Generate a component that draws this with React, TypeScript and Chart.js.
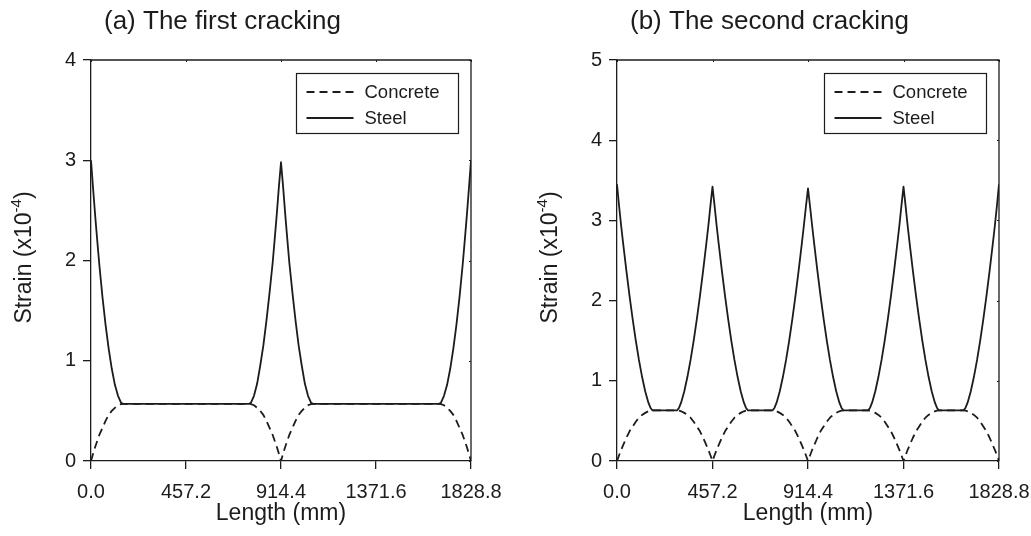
import React, { useEffect, useRef } from "react";
import { Chart, registerables } from "chart.js";

Chart.register(...registerables);

const FONT = '"Liberation Sans", Arial, Helvetica, sans-serif';
const INK = "#1c1c1c";

// ---------- shared axis data ----------
const xTickValues = [0, 457.2, 914.4, 1371.6, 1828.8];
const xMax = 1828.8;
const seriesNames = ["Concrete", "Steel"];

// ---------- (a) The first cracking ----------
const lengthA = [
  0, 10, 20, 30, 40, 55, 70, 85, 100, 115, 130, 145, 154,
  760.4, 769.4, 784.4, 799.4, 814.4, 829.4, 844.4, 859.4, 874.4, 884.4, 894.4, 904.4, 914.4,
  924.4, 934.4, 944.4, 954.4, 969.4, 984.4, 999.4, 1014.4, 1029.4, 1044.4, 1059.4, 1068.4,
  1674.8, 1683.8, 1698.8, 1713.8, 1728.8, 1743.8, 1758.8, 1773.8, 1788.8, 1798.8, 1808.8, 1818.8, 1828.8,
];
const steelA = [
  3.0, 2.72, 2.45, 2.2, 1.96, 1.64, 1.36, 1.12, 0.92, 0.76, 0.65, 0.58, 0.57,
  0.57, 0.58, 0.65, 0.77, 0.95, 1.15, 1.4, 1.68, 1.98, 2.22, 2.47, 2.74, 2.98,
  2.74, 2.47, 2.22, 1.98, 1.68, 1.4, 1.15, 0.95, 0.77, 0.65, 0.58, 0.57,
  0.57, 0.58, 0.65, 0.76, 0.92, 1.12, 1.36, 1.64, 1.96, 2.2, 2.45, 2.72, 3.0,
];
const concreteA = [
  0, 0.072, 0.14, 0.2, 0.26, 0.33, 0.4, 0.46, 0.5, 0.53, 0.556, 0.568, 0.57,
  0.57, 0.568, 0.556, 0.53, 0.5, 0.46, 0.4, 0.33, 0.26, 0.2, 0.14, 0.072, 0,
  0.072, 0.14, 0.2, 0.26, 0.33, 0.4, 0.46, 0.5, 0.53, 0.556, 0.568, 0.57,
  0.57, 0.568, 0.556, 0.53, 0.5, 0.46, 0.4, 0.33, 0.26, 0.2, 0.14, 0.072, 0,
];

// ---------- (b) The second cracking ----------
const lengthB = [
  0, 10, 20, 30, 45, 60, 75, 90, 105, 120, 135, 150, 160, 170,
  287.2, 297.2, 307.2, 322.2, 337.2, 352.2, 367.2, 382.2, 397.2, 412.2, 427.2, 437.2, 447.2, 457.2,
  467.2, 477.2, 487.2, 502.2, 517.2, 532.2, 547.2, 562.2, 577.2, 592.2, 607.2, 617.2, 627.2,
  744.4, 754.4, 764.4, 779.4, 794.4, 809.4, 824.4, 839.4, 854.4, 869.4, 884.4, 894.4, 904.4, 914.4,
  924.4, 934.4, 944.4, 959.4, 974.4, 989.4, 1004.4, 1019.4, 1034.4, 1049.4, 1064.4, 1074.4, 1084.4,
  1201.6, 1211.6, 1221.6, 1236.6, 1251.6, 1266.6, 1281.6, 1296.6, 1311.6, 1326.6, 1341.6, 1351.6, 1361.6, 1371.6,
  1381.6, 1391.6, 1401.6, 1416.6, 1431.6, 1446.6, 1461.6, 1476.6, 1491.6, 1506.6, 1521.6, 1531.6, 1541.6,
  1658.8, 1668.8, 1678.8, 1693.8, 1708.8, 1723.8, 1738.8, 1753.8, 1768.8, 1783.8, 1798.8, 1808.8, 1818.8, 1828.8,
];
const steelB = [
  3.45, 3.18, 2.93, 2.7, 2.37, 2.06, 1.77, 1.5, 1.26, 1.05, 0.87, 0.73, 0.665, 0.63,
  0.63, 0.665, 0.73, 0.87, 1.05, 1.26, 1.5, 1.77, 2.06, 2.37, 2.7, 2.93, 3.18, 3.42,
  3.18, 2.93, 2.7, 2.37, 2.06, 1.77, 1.5, 1.26, 1.05, 0.87, 0.73, 0.665, 0.63,
  0.63, 0.665, 0.73, 0.87, 1.05, 1.26, 1.5, 1.77, 2.06, 2.37, 2.7, 2.93, 3.17, 3.4,
  3.17, 2.93, 2.7, 2.37, 2.06, 1.77, 1.5, 1.26, 1.05, 0.87, 0.73, 0.665, 0.63,
  0.63, 0.665, 0.73, 0.87, 1.05, 1.26, 1.5, 1.77, 2.06, 2.37, 2.7, 2.93, 3.18, 3.42,
  3.18, 2.93, 2.7, 2.37, 2.06, 1.77, 1.5, 1.26, 1.05, 0.87, 0.73, 0.665, 0.63,
  0.63, 0.665, 0.73, 0.87, 1.05, 1.26, 1.5, 1.77, 2.06, 2.37, 2.7, 2.93, 3.18, 3.45,
];
const concreteB = [
  0, 0.072, 0.14, 0.2, 0.29, 0.37, 0.43, 0.49, 0.54, 0.575, 0.6, 0.62, 0.627, 0.63,
  0.63, 0.627, 0.62, 0.6, 0.575, 0.54, 0.49, 0.43, 0.37, 0.29, 0.2, 0.14, 0.072, 0,
  0.072, 0.14, 0.2, 0.29, 0.37, 0.43, 0.49, 0.54, 0.575, 0.6, 0.62, 0.627, 0.63,
  0.63, 0.627, 0.62, 0.6, 0.575, 0.54, 0.49, 0.43, 0.37, 0.29, 0.2, 0.14, 0.072, 0,
  0.072, 0.14, 0.2, 0.29, 0.37, 0.43, 0.49, 0.54, 0.575, 0.6, 0.62, 0.627, 0.63,
  0.63, 0.627, 0.62, 0.6, 0.575, 0.54, 0.49, 0.43, 0.37, 0.29, 0.2, 0.14, 0.072, 0,
  0.072, 0.14, 0.2, 0.29, 0.37, 0.43, 0.49, 0.54, 0.575, 0.6, 0.62, 0.627, 0.63,
  0.63, 0.627, 0.62, 0.6, 0.575, 0.54, 0.49, 0.43, 0.37, 0.29, 0.2, 0.14, 0.072, 0,
];

const xTitle = "Length (mm)";
const yTitleMain = "Strain (x10";
const yTitleSup = "-4";
const yTitleEnd = ")";

type PanelProps = {
  left: number;
  width: number;
  axisWidth: number;
  padRight: number;
  title: string;
  xs: number[];
  steel: number[];
  concrete: number[];
  yMax: number;
};

function Panel(props: PanelProps) {
  const ref = useRef<HTMLCanvasElement | null>(null);

  useEffect(() => {
    const canvas = ref.current;
    if (!canvas) return;
    const { title, xs, steel, concrete, yMax, axisWidth, padRight } = props;

    const decor = {
      id: "decor",
      afterDraw(chart: any) {
        const ctx = chart.ctx as CanvasRenderingContext2D;
        const a = chart.chartArea;
        ctx.save();
        // frame top + right
        ctx.strokeStyle = INK;
        ctx.lineWidth = 1.3;
        ctx.beginPath();
        ctx.moveTo(a.left, a.top);
        ctx.lineTo(a.right, a.top);
        ctx.lineTo(a.right, a.bottom);
        ctx.stroke();
        // tiny mirror ticks
        ctx.lineWidth = 1;
        const xs2 = chart.scales.x;
        const ys2 = chart.scales.y;
        ctx.beginPath();
        xTickValues.forEach((v) => {
          const px = Math.round(xs2.getPixelForValue(v)) + 0.5;
          ctx.moveTo(px, a.top);
          ctx.lineTo(px, a.top + 2);
        });
        for (let v = 0; v <= yMax; v++) {
          const py = Math.round(ys2.getPixelForValue(v)) + 0.5;
          ctx.moveTo(a.right, py);
          ctx.lineTo(a.right - 2, py);
        }
        ctx.stroke();

        // title
        ctx.fillStyle = INK;
        ctx.font = `26px ${FONT}`;
        ctx.textAlign = "left";
        ctx.textBaseline = "alphabetic";
        ctx.fillText(title, a.left + 13, 29);

        // x title
        ctx.font = `23px ${FONT}`;
        ctx.textAlign = "center";
        ctx.textBaseline = "middle";
        ctx.fillText(xTitle, (a.left + a.right) / 2, 514);

        // y title (rotated, superscript)
        ctx.save();
        ctx.translate(a.left - 66, (a.top + a.bottom) / 2 - 3);
        ctx.rotate(-Math.PI / 2);
        ctx.textAlign = "left";
        ctx.textBaseline = "middle";
        ctx.font = `23px ${FONT}`;
        const w1 = ctx.measureText(yTitleMain).width;
        const w3 = ctx.measureText(yTitleEnd).width;
        ctx.font = `15px ${FONT}`;
        const w2 = ctx.measureText(yTitleSup).width;
        const total = w1 + w2 + w3;
        let x0 = -total / 2;
        ctx.font = `23px ${FONT}`;
        ctx.fillText(yTitleMain, x0, 0);
        x0 += w1;
        ctx.font = `15px ${FONT}`;
        ctx.fillText(yTitleSup, x0, -8);
        x0 += w2;
        ctx.font = `23px ${FONT}`;
        ctx.fillText(yTitleEnd, x0, 0);
        ctx.restore();

        // legend box
        const bw = 162;
        const bh = 60;
        const bx = Math.round(a.right - 13 - bw) + 0.5;
        const by = 73.5;
        ctx.fillStyle = "#ffffff";
        ctx.fillRect(bx, by, bw, bh);
        ctx.strokeStyle = INK;
        ctx.lineWidth = 1.2;
        ctx.strokeRect(bx, by, bw, bh);
        const rows = [18.5, 44.5];
        ctx.lineWidth = 1.8;
        rows.forEach((ry, i) => {
          ctx.setLineDash(i === 0 ? [8, 5] : []);
          ctx.beginPath();
          ctx.moveTo(bx + 10, by + ry);
          ctx.lineTo(bx + 57, by + ry);
          ctx.stroke();
        });
        ctx.setLineDash([]);
        ctx.fillStyle = INK;
        ctx.font = `18.5px ${FONT}`;
        ctx.textAlign = "left";
        ctx.textBaseline = "middle";
        rows.forEach((ry, i) => {
          ctx.fillText(seriesNames[i], bx + 68, by + ry + 1);
        });
        ctx.restore();
      },
    };

    const tickFont = { family: FONT, size: 20 };

    const chart = new Chart(canvas, {
      type: "line",
      data: {
        datasets: [
          {
            label: seriesNames[0],
            data: xs.map((x, i) => ({ x, y: concrete[i] })),
            borderColor: INK,
            borderWidth: 1.8,
            borderDash: [8, 5],
            borderJoinStyle: "round",
            pointRadius: 0,
            fill: false,
            tension: 0,
          },
          {
            label: seriesNames[1],
            data: xs.map((x, i) => ({ x, y: steel[i] })),
            borderColor: INK,
            borderWidth: 1.8,
            borderJoinStyle: "round",
            pointRadius: 0,
            fill: false,
            tension: 0,
          },
        ],
      },
      options: {
        responsive: false,
        animation: false,
        devicePixelRatio: 1,
        layout: { padding: { top: 60, right: padRight, left: 0, bottom: 0 } },
        plugins: {
          legend: { display: false },
          tooltip: { enabled: false },
          title: { display: false },
        },
        scales: {
          x: {
            type: "linear",
            min: 0,
            max: xMax,
            afterBuildTicks: (s: any) => {
              s.ticks = xTickValues.map((v) => ({ value: v }));
            },
            afterFit: (s: any) => {
              s.height = 75;
              s.paddingLeft = 0;
              s.paddingRight = 0;
            },
            ticks: {
              callback: (v: any) => Number(v).toFixed(1),
              font: tickFont,
              color: INK,
              padding: 11,
              maxRotation: 0,
              autoSkip: false,
            },
            grid: {
              drawOnChartArea: false,
              drawTicks: true,
              tickLength: 8,
              color: INK,
              lineWidth: 1.3,
            },
            border: { display: true, color: INK, width: 1.3 },
          },
          y: {
            type: "linear",
            min: 0,
            max: yMax,
            afterFit: (s: any) => {
              s.width = axisWidth;
              s.paddingTop = 0;
              s.paddingBottom = 0;
            },
            ticks: {
              stepSize: 1,
              font: tickFont,
              color: INK,
              padding: 7,
            },
            grid: {
              drawOnChartArea: false,
              drawTicks: true,
              tickLength: 8,
              color: INK,
              lineWidth: 1.3,
            },
            border: { display: true, color: INK, width: 1.3 },
          },
        },
      } as any,
      plugins: [decor],
    });

    return () => chart.destroy();
  }, []);

  return (
    <canvas
      ref={ref}
      width={props.width}
      height={536}
      style={{ position: "absolute", left: props.left, top: 0, width: props.width, height: 536 }}
    />
  );
}

export default function App() {
  return (
    <div style={{ position: "fixed", left: 0, top: 0, width: 1031, height: 536, background: "#fff" }}>
      <Panel
        left={0}
        width={515}
        axisWidth={91}
        padRight={44}
        title="(a) The first cracking"
        xs={lengthA}
        steel={steelA}
        concrete={concreteA}
        yMax={4}
      />
      <Panel
        left={515}
        width={516}
        axisWidth={102}
        padRight={32}
        title="(b) The second cracking"
        xs={lengthB}
        steel={steelB}
        concrete={concreteB}
        yMax={5}
      />
    </div>
  );
}
